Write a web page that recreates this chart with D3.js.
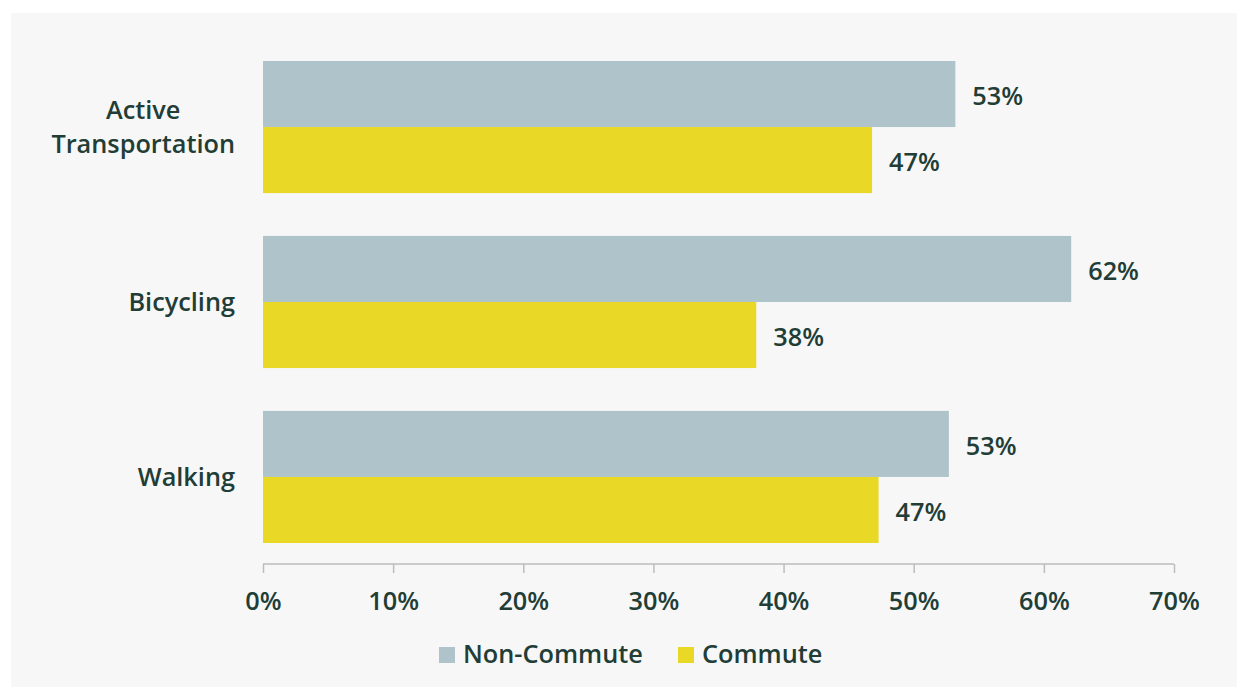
<!DOCTYPE html>
<html>
<head>
<meta charset="utf-8">
<script src="https://cdn.jsdelivr.net/npm/d3@7"></script>
<style>
html,body{margin:0;padding:0;background:#ffffff;}
svg{display:block;}
text{font-family:"Open Sans",sans-serif;font-weight:600;fill:#213d36;}
</style>
</head>
<body>
<svg id="chart" width="1237" height="687"></svg>
<script>
const categories = [["Active","Transportation"],["Bicycling"],["Walking"]];
const categoryKeys = ["Active Transportation","Bicycling","Walking"];
const seriesNames = ["Non-Commute","Commute"];
const nonCommute = [53.2, 62.1, 52.7];
const commute = [46.8, 37.9, 47.3];
const xTicks = [0,10,20,30,40,50,60,70];
const colors = ["#aec3ca","#e9d926"];
const FS = 25.3;

const svg = d3.select("#chart");
svg.append("rect").attr("x",11).attr("y",13).attr("width",1226).attr("height",674).attr("fill","#f7f7f7");

const x = d3.scaleLinear().domain([0,70]).range([263,1174]);
const y = d3.scaleBand().domain(categoryKeys).range([40,564]).paddingInner(0.245).paddingOuter(0.12);
const sub = d3.scaleBand().domain(seriesNames).range([0,y.bandwidth()]);

const series = [nonCommute, commute];

// axis
const axis = d3.axisBottom(x).tickValues(xTicks).tickFormat(d=>d+"%").tickSize(9).tickPadding(19);
const ax = svg.append("g").attr("transform","translate(0,564)").call(axis);
ax.select(".domain").attr("stroke","#bcbcbc").attr("stroke-width",1.5).attr("d","M263,0H1174");
ax.selectAll(".tick line").attr("stroke","#bcbcbc").attr("stroke-width",1.5);
ax.selectAll(".tick text").attr("font-size",FS).attr("font-family","'Open Sans',sans-serif").attr("font-weight",600).attr("fill","#213d36");

// bars
categoryKeys.forEach((c,i)=>{
  seriesNames.forEach((s,j)=>{
    const v = series[j][i];
    svg.append("rect")
      .attr("x",x(0)).attr("y",y(c)+sub(s))
      .attr("width",x(v)-x(0)).attr("height",sub.bandwidth())
      .attr("fill",colors[j]);
    svg.append("text")
      .attr("x",x(v)+17).attr("y",y(c)+sub(s)+sub.bandwidth()/2+2)
      .attr("dy","0.36em").attr("font-size",FS)
      .text(Math.round(v)+"%");
  });
  // category label
  const lines = categories[i];
  const lh = 34;
  const cy = y(c)+y.bandwidth()/2;
  const t = svg.append("text").attr("font-size",FS).attr("text-anchor","middle");
  lines.forEach((ln,k)=>{
    t.append("tspan").attr("x",0).attr("y",cy+(k-(lines.length-1)/2)*lh).attr("dy","0.36em").text(ln);
  });
  const bb = t.node().getBBox();
  t.selectAll("tspan").attr("x",235-bb.width/2);
});

// legend
const legend = [{name:"Non-Commute",c:colors[0],x:439},{name:"Commute",c:colors[1],x:678}];
legend.forEach(l=>{
  svg.append("rect").attr("x",l.x).attr("y",647).attr("width",16).attr("height",16).attr("fill",l.c);
  svg.append("text").attr("x",l.x+24).attr("y",663).attr("font-size",FS).text(l.name);
});
</script>
</body>
</html>
